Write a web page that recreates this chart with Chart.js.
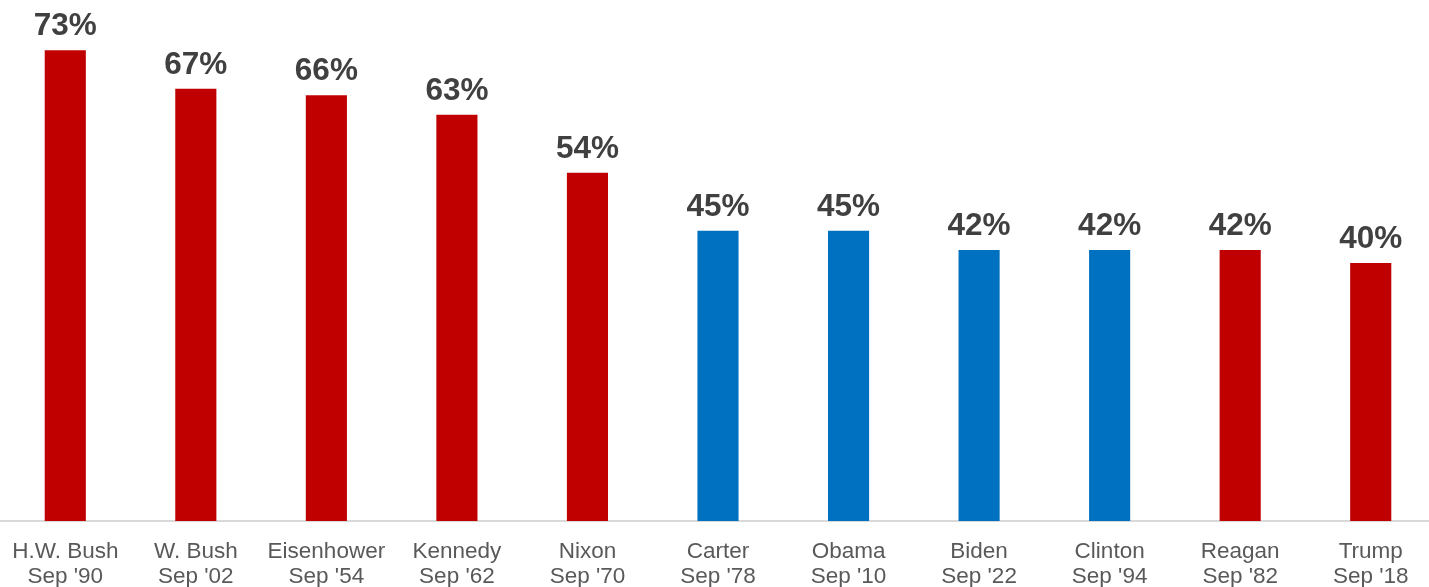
<!DOCTYPE html>
<html><head><meta charset="utf-8">
<script src="https://cdn.jsdelivr.net/npm/chart.js@4"></script>
<style>
html,body{margin:0;padding:0;background:#fff;overflow:hidden}
#wrap{width:1436px;height:587px;position:relative}
</style></head>
<body><div id="wrap"><canvas id="c"></canvas></div>
<script>
const presidents = ["H.W. Bush","W. Bush","Eisenhower","Kennedy","Nixon","Carter","Obama","Biden","Clinton","Reagan","Trump"];
const dates = ["Sep '90","Sep '02","Sep '54","Sep '62","Sep '70","Sep '78","Sep '10","Sep '22","Sep '94","Sep '82","Sep '18"];
const approval = [73,67,66,63,54,45,45,42,42,42,40];
const party = ["R","R","R","R","R","D","D","D","D","R","R"];
const partyColors = {R:"#C00000", D:"#0070C0"};

const labelPlugin = {
  id:'valLabels',
  afterDatasetsDraw(chart){
    const ctx = chart.ctx;
    const meta = chart.getDatasetMeta(0);
    ctx.save();
    ctx.font = "bold 31.5px 'Liberation Sans', Arial, sans-serif";
    ctx.fillStyle = "#404040";
    ctx.textAlign = "center";
    ctx.textBaseline = "alphabetic";
    meta.data.forEach((bar,i)=>{
      ctx.fillText(approval[i]+"%", bar.x, bar.y - 15);
    });
    ctx.restore();
  }
};

new Chart(document.getElementById('c'), {
  type:'bar',
  data:{
    labels: presidents.map((p,i)=>[p, dates[i]]),
    datasets:[{
      data: approval,
      backgroundColor: party.map(p=>partyColors[p]),
      barPercentage: 0.315,
      categoryPercentage: 1
    }]
  },
  options:{
    responsive:true,
    maintainAspectRatio:false,
    animation:false,
    layout:{padding:{top:5,left:0,right:0,bottom:0}},
    plugins:{legend:{display:false}, tooltip:{enabled:false}},
    scales:{
      x:{
        afterFit(scale){ scale.height = 66; scale.paddingLeft = 0; scale.paddingRight = 0; },
        grid:{display:false, drawTicks:false},
        border:{display:true, color:"#d9d9d9", width:2},
        ticks:{
          color:"#595959",
          font:{family:"'Liberation Sans', Arial, sans-serif", size:22.5, lineHeight:1.111},
          padding:18,
          maxRotation:0, autoSkip:false
        }
      },
      y:{
        display:false,
        min:0, max:80
      }
    }
  },
  plugins:[labelPlugin]
});
</script></body></html>
